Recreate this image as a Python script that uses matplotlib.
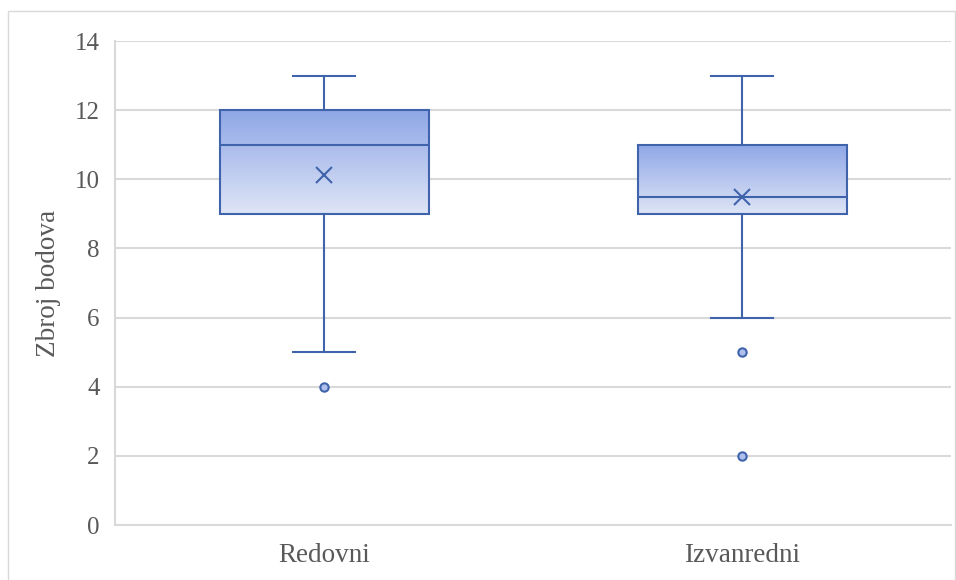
import matplotlib

matplotlib.use("Agg")
import matplotlib.pyplot as plt
import numpy as np
from matplotlib.patches import Rectangle

# Box plot summary values
groups = ["Redovni", "Izvanredni"]
whisker_lo = [5, 6]
q1 = [9, 9]
medians = [11, 9.5]
q3 = [12, 11]
whisker_hi = [13, 13]
means = [10.12, 9.5]
outliers = [[4], [5, 2]]
y_ticks = [0, 2, 4, 6, 8, 10, 12, 14]

EDGE = "#4064AC"
TOP = np.array([0x8F, 0xA7, 0xE7]) / 255
BOTTOM = np.array([0xDF, 0xE5, 0xF6]) / 255

plt.rcParams["font.family"] = ["Liberation Serif", "DejaVu Serif"]

fig = plt.figure(figsize=(9.56, 5.8), dpi=100)
fig.patches.append(Rectangle((8 / 956, -0.01), 947 / 956, 1 - 11 / 580 + 0.01,
                             transform=fig.transFigure, fill=False,
                             edgecolor="#D9D9D9", lw=1.0))
ax = fig.add_axes([115 / 956, 1 - 525 / 580, 836 / 956, 484 / 580])

stats = []
for i, name in enumerate(groups):
    stats.append(dict(label=name, whislo=whisker_lo[i], q1=q1[i], med=medians[i],
                      q3=q3[i], whishi=whisker_hi[i], mean=means[i], fliers=outliers[i]))

pos = np.arange(len(groups))
bp = ax.bxp(stats, positions=pos, widths=0.5, showmeans=True, patch_artist=True,
            boxprops=dict(edgecolor=EDGE, facecolor="none", lw=1.5),
            medianprops=dict(color=EDGE, lw=1.5),
            whiskerprops=dict(color=EDGE, lw=1.5),
            capprops=dict(color=EDGE, lw=1.5),
            capwidths=0.15,
            meanprops=dict(marker="x", markeredgecolor=EDGE, markersize=12, markeredgewidth=1.5),
            flierprops=dict(marker="o", markerfacecolor="#AFC0EA", markeredgecolor=EDGE,
                            markersize=6, markeredgewidth=1.5))

# gradient fill inside each box
grad = np.linspace(0, 1, 256)[:, None, None]
img = TOP * (1 - grad) + BOTTOM * grad
for i, box in enumerate(bp["boxes"]):
    im = ax.imshow(img, extent=[pos[i] - 0.25, pos[i] + 0.25, q1[i], q3[i]],
                   aspect="auto", zorder=1.5, origin="upper")
    im.set_clip_path(box)

ax.set_xlim(-0.5, 1.5)
ax.set_ylim(0, 14)
ax.set_yticks(y_ticks)
ax.set_xticks(pos)
ax.set_xticklabels(groups)
ax.grid(axis="y", color="#D9D9D9", lw=1.5)
ax.set_axisbelow(True)
for s in ["top", "right"]:
    ax.spines[s].set_visible(False)
for s in ["left", "bottom"]:
    ax.spines[s].set_color("#D9D9D9")
    ax.spines[s].set_linewidth(1.5)
ax.tick_params(length=0, labelcolor="#595959")
ax.tick_params(axis="y", pad=11, labelsize=18)
ax.tick_params(axis="x", pad=13, labelsize=19.5)
ax.set_ylabel("Zbroj bodova", fontsize=19.5, color="#595959", labelpad=10)

fig.savefig("out.png", dpi=100)
